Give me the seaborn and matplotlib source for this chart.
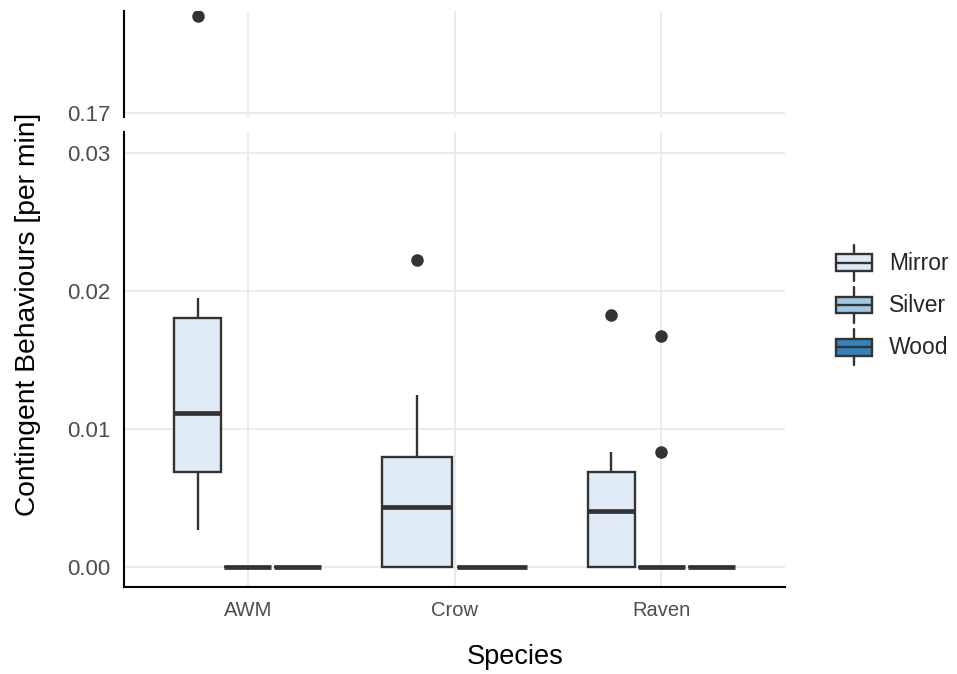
import pandas as pd
import matplotlib.pyplot as plt
import seaborn as sns
from matplotlib.patches import Rectangle
from matplotlib.lines import Line2D
from matplotlib.legend_handler import HandlerBase

# categories
species = ["AWM", "Crow", "Raven"]
surfaces = ["Mirror", "Silver", "Wood"]
colors = ["#DEEBF7", "#9ECAE1", "#3182BD"]

# contingent behaviours per minute, one value per session
awm_mirror = [0.00268, 0.0052, 0.0086, 0.01118, 0.01652, 0.0195, 0.18]
awm_silver = [0.0, 0.0, 0.0, 0.0, 0.0, 0.0, 0.0]
awm_wood = [0.0, 0.0, 0.0, 0.0, 0.0, 0.0, 0.0]
crow_mirror = [0.0, 0.0, 0.0, 0.0021, 0.00437, 0.0061, 0.00799, 0.01246, 0.02225]
crow_silver = [0.0, 0.0, 0.0, 0.0, 0.0, 0.0, 0.0, 0.0, 0.0]
raven_mirror = [0.0, 0.0, 0.0, 0.0018, 0.00408, 0.0055, 0.00686, 0.00831, 0.01826]
raven_silver = [0.0, 0.0, 0.0, 0.0, 0.0, 0.0, 0.0, 0.00836, 0.01674]
raven_wood = [0.0, 0.0, 0.0, 0.0, 0.0, 0.0, 0.0, 0.0, 0.0]

# tick labels for the two parts of the broken axis
low_ticks = [0.00, 0.01, 0.02, 0.03]
high_ticks = [0.17]

groups = [
    ("AWM", "Mirror", awm_mirror), ("AWM", "Silver", awm_silver), ("AWM", "Wood", awm_wood),
    ("Crow", "Mirror", crow_mirror), ("Crow", "Silver", crow_silver),
    ("Raven", "Mirror", raven_mirror), ("Raven", "Silver", raven_silver), ("Raven", "Wood", raven_wood),
]
rows = []
for sp, surf, vals in groups:
    rows += [(sp, surf, v) for v in vals]
df = pd.DataFrame(rows, columns=["Species", "Surface", "Rate"])

palette = dict(zip(surfaces, colors))
edge = "#333333"

sns.set_theme(style="whitegrid", rc={"grid.color": "#EBEBEB", "grid.linewidth": 1.4,
                                     "axes.edgecolor": "black", "axes.linewidth": 1.5})
plt.rcParams["font.family"] = ["Liberation Sans", "DejaVu Sans"]


def draw_boxes(ax):
    # one call per species so missing surfaces don't leave a gap (like dodge2)
    for sp in species:
        sub = df[df["Species"] == sp]
        present = [s for s in surfaces if s in set(sub["Surface"])]
        sns.boxplot(data=sub, x="Species", y="Rate", hue="Surface", order=species,
                    hue_order=present, palette=palette, width=0.726, gap=0.06,
                    saturation=1, linecolor=edge, linewidth=1.7, showcaps=False,
                    fliersize=8,
                    flierprops=dict(marker="o", markerfacecolor=edge, markeredgecolor=edge),
                    medianprops=dict(linewidth=3.4, solid_capstyle="butt"),
                    legend=False, ax=ax)


fig = plt.figure(figsize=(9.57, 6.74), dpi=100)
ax_top = fig.add_axes([0.1296, 0.8264, 0.6907, 0.1573])
ax_bot = fig.add_axes([0.1296, 0.1291, 0.6907, 0.6751])

for ax in (ax_top, ax_bot):
    draw_boxes(ax)
    ax.set_xlim(-0.6, 2.6)
    ax.set_xlabel("")
    ax.set_ylabel("")
    ax.grid(True, axis="both")
    ax.set_axisbelow(True)
    for s in ("top", "right"):
        ax.spines[s].set_visible(False)
    ax.tick_params(axis="both", length=6, width=1.5, color="black",
                   labelcolor="#4D4D4D", pad=4)
    ax.tick_params(axis="y", labelsize=16)
    ax.tick_params(axis="x", labelsize=14.5)

ax_bot.set_ylim(-0.00145, 0.03152)
ax_bot.set_yticks(low_ticks)
ax_bot.set_yticklabels(["%.2f" % t for t in low_ticks])
ax_bot.set_xticks(range(len(species)))
ax_bot.set_xticklabels(species)

ax_top.set_ylim(0.16959, 0.18049)
ax_top.set_yticks(high_ticks)
ax_top.set_yticklabels(["%.2f" % t for t in high_ticks])
ax_top.set_xticks(range(len(species)))
ax_top.tick_params(axis="x", length=0, labelbottom=False)
ax_top.spines["bottom"].set_visible(False)

fig.text(0.029, 0.534, "Contingent Behaviours [per min]", rotation=90,
         ha="center", va="center", fontsize=20.3, color="black")
fig.text(0.538, 0.025, "Species", ha="center", va="center", fontsize=19.5, color="black")


class BoxKey(HandlerBase):
    # ggplot-like boxplot key: box, median and whiskers
    def create_artists(self, legend, orig_handle, xdescent, ydescent, width, height,
                       fontsize, trans):
        x0, y0 = -xdescent, -ydescent
        cx, cy = x0 + width / 2, y0 + height / 2
        bh = height * 0.40
        box = Rectangle((x0, cy - bh / 2), width, bh, facecolor=orig_handle.get_facecolor(),
                        edgecolor=edge, linewidth=1.7, transform=trans)
        med = Line2D([x0, x0 + width], [cy, cy], color=edge, linewidth=1.7, transform=trans)
        wt = Line2D([cx, cx], [cy + bh / 2, cy + height * 0.42], color=edge, linewidth=1.7,
                    transform=trans)
        wb = Line2D([cx, cx], [cy - bh / 2, cy - height * 0.42], color=edge, linewidth=1.7,
                    transform=trans)
        return [box, med, wt, wb]


handles = [Rectangle((0, 0), 1, 1, facecolor=c) for c in colors]
fig.legend(handles, surfaces, loc="center left", bbox_to_anchor=(836 / 957, 1 - 305 / 674),
           frameon=False, fontsize=16.5, handler_map={Rectangle: BoxKey()},
           handlelength=1.58, handleheight=2.45, labelspacing=0.0, handletextpad=0.75,
           borderpad=0, borderaxespad=0)

fig.savefig("out.png", dpi=100)
